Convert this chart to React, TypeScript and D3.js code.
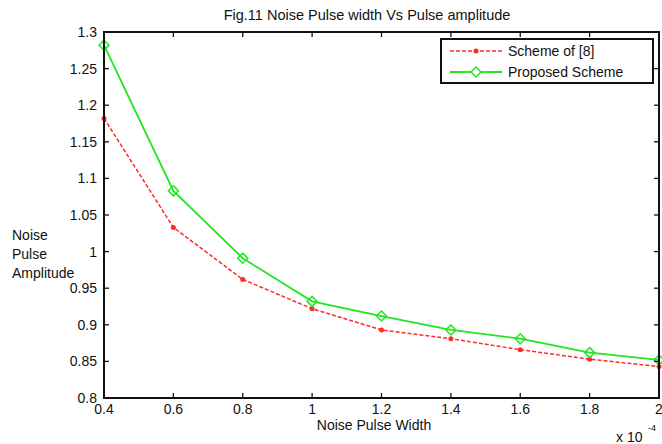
import React from "react";
import * as d3 from "d3";

const widths = [0.4, 0.6, 0.8, 1.0, 1.2, 1.4, 1.6, 1.8, 2.0];
const schemeOf8 = [1.182, 1.033, 0.962, 0.922, 0.893, 0.881, 0.866, 0.853, 0.843];
const proposed = [1.282, 1.083, 0.991, 0.932, 0.912, 0.893, 0.881, 0.862, 0.852];
const xTicks = [0.4, 0.6, 0.8, 1, 1.2, 1.4, 1.6, 1.8, 2];
const yTicks = [0.8, 0.85, 0.9, 0.95, 1, 1.05, 1.1, 1.15, 1.2, 1.25, 1.3];

const font = "'Liberation Sans', Arial, sans-serif";
const fs = 14;

export default function App() {
  // plot area in page pixels
  const margin = { left: 104, top: 32, right: 659, bottom: 398 };
  const x = d3.scaleLinear().domain([0.4, 2]).range([margin.left, margin.right]);
  const y = d3.scaleLinear().domain([0.8, 1.3]).range([margin.bottom, margin.top]);

  const line = d3
    .line<number>()
    .x((_, i) => x(widths[i]))
    .y((d) => y(d));

  const tick = 5;
  const diamond = (cx: number, cy: number, r: number) =>
    `M${cx},${cy - r}L${cx + r},${cy}L${cx},${cy + r}L${cx - r},${cy}Z`;

  return (
    <svg
      width={662}
      height={444}
      style={{ position: "absolute", left: 0, top: 0, background: "#fff" }}
      fontFamily={font}
    >
      <rect width={662} height={444} fill="#fff" />

      {/* title */}
      <text x={367} y={20} textAnchor="middle" fontSize={14.5} fill="#111">
        Fig.11 Noise Pulse width Vs Pulse amplitude
      </text>

      {/* series */}
      <path d={line(schemeOf8) || ""} fill="none" stroke="#ff2a2a" strokeWidth={1.5} strokeDasharray="4,2" />
      {schemeOf8.map((v, i) => (
        <circle key={"r" + i} cx={x(widths[i])} cy={y(v)} r={2.5} fill="#ff2a2a" />
      ))}
      <path d={line(proposed) || ""} fill="none" stroke="#22e622" strokeWidth={1.8} />
      {proposed.map((v, i) => (
        <path key={"g" + i} d={diamond(x(widths[i]), y(v), 5)} fill="none" stroke="#22e622" strokeWidth={1.5} />
      ))}

      {/* axes box */}
      <rect
        x={margin.left}
        y={margin.top}
        width={margin.right - margin.left}
        height={margin.bottom - margin.top}
        fill="none"
        stroke="#111"
        strokeWidth={2}
      />
      {xTicks.map((t) => (
        <g key={"xt" + t}>
          <line x1={x(t)} x2={x(t)} y1={margin.bottom} y2={margin.bottom - tick} stroke="#111" strokeWidth={1.3} />
          <line x1={x(t)} x2={x(t)} y1={margin.top} y2={margin.top + tick} stroke="#111" strokeWidth={1.3} />
          <text x={x(t)} y={margin.bottom + 16} textAnchor="middle" fontSize={fs} fill="#111">
            {t}
          </text>
        </g>
      ))}
      {yTicks.map((t) => (
        <g key={"yt" + t}>
          <line x1={margin.left} x2={margin.left + tick} y1={y(t)} y2={y(t)} stroke="#111" strokeWidth={1.3} />
          <line x1={margin.right} x2={margin.right - tick} y1={y(t)} y2={y(t)} stroke="#111" strokeWidth={1.3} />
          <text x={margin.left - 7} y={y(t) + 5} textAnchor="end" fontSize={fs} fill="#111">
            {t}
          </text>
        </g>
      ))}

      {/* axis labels */}
      <text x={374} y={430} textAnchor="middle" fontSize={fs} fill="#111">
        Noise Pulse Width
      </text>
      <text x={616} y={442} fontSize={fs} fill="#111">
        x 10
      </text>
      <text x={648} y={431} fontSize={9} fill="#111">
        -4
      </text>
      <text fontSize={fs} fill="#111">
        <tspan x={12} y={240}>Noise</tspan>
        <tspan x={12} y={259}>Pulse</tspan>
        <tspan x={12} y={278}>Amplitude</tspan>
      </text>

      {/* legend */}
      <rect x={441} y={39} width={212} height={44} fill="#fff" stroke="#111" strokeWidth={2} />
      <line x1={450} x2={502} y1={51} y2={51} stroke="#ff2a2a" strokeWidth={1.5} strokeDasharray="4,2" />
      <circle cx={476} cy={51} r={2.5} fill="#ff2a2a" />
      <text x={508} y={56} fontSize={fs} fill="#111">
        Scheme of [8]
      </text>
      <line x1={450} x2={502} y1={72} y2={72} stroke="#22e622" strokeWidth={1.8} />
      <path d={diamond(476, 72, 5)} fill="#fff" stroke="#22e622" strokeWidth={1.5} />
      <text x={508} y={77} fontSize={fs} fill="#111">
        Proposed Scheme
      </text>
    </svg>
  );
}
